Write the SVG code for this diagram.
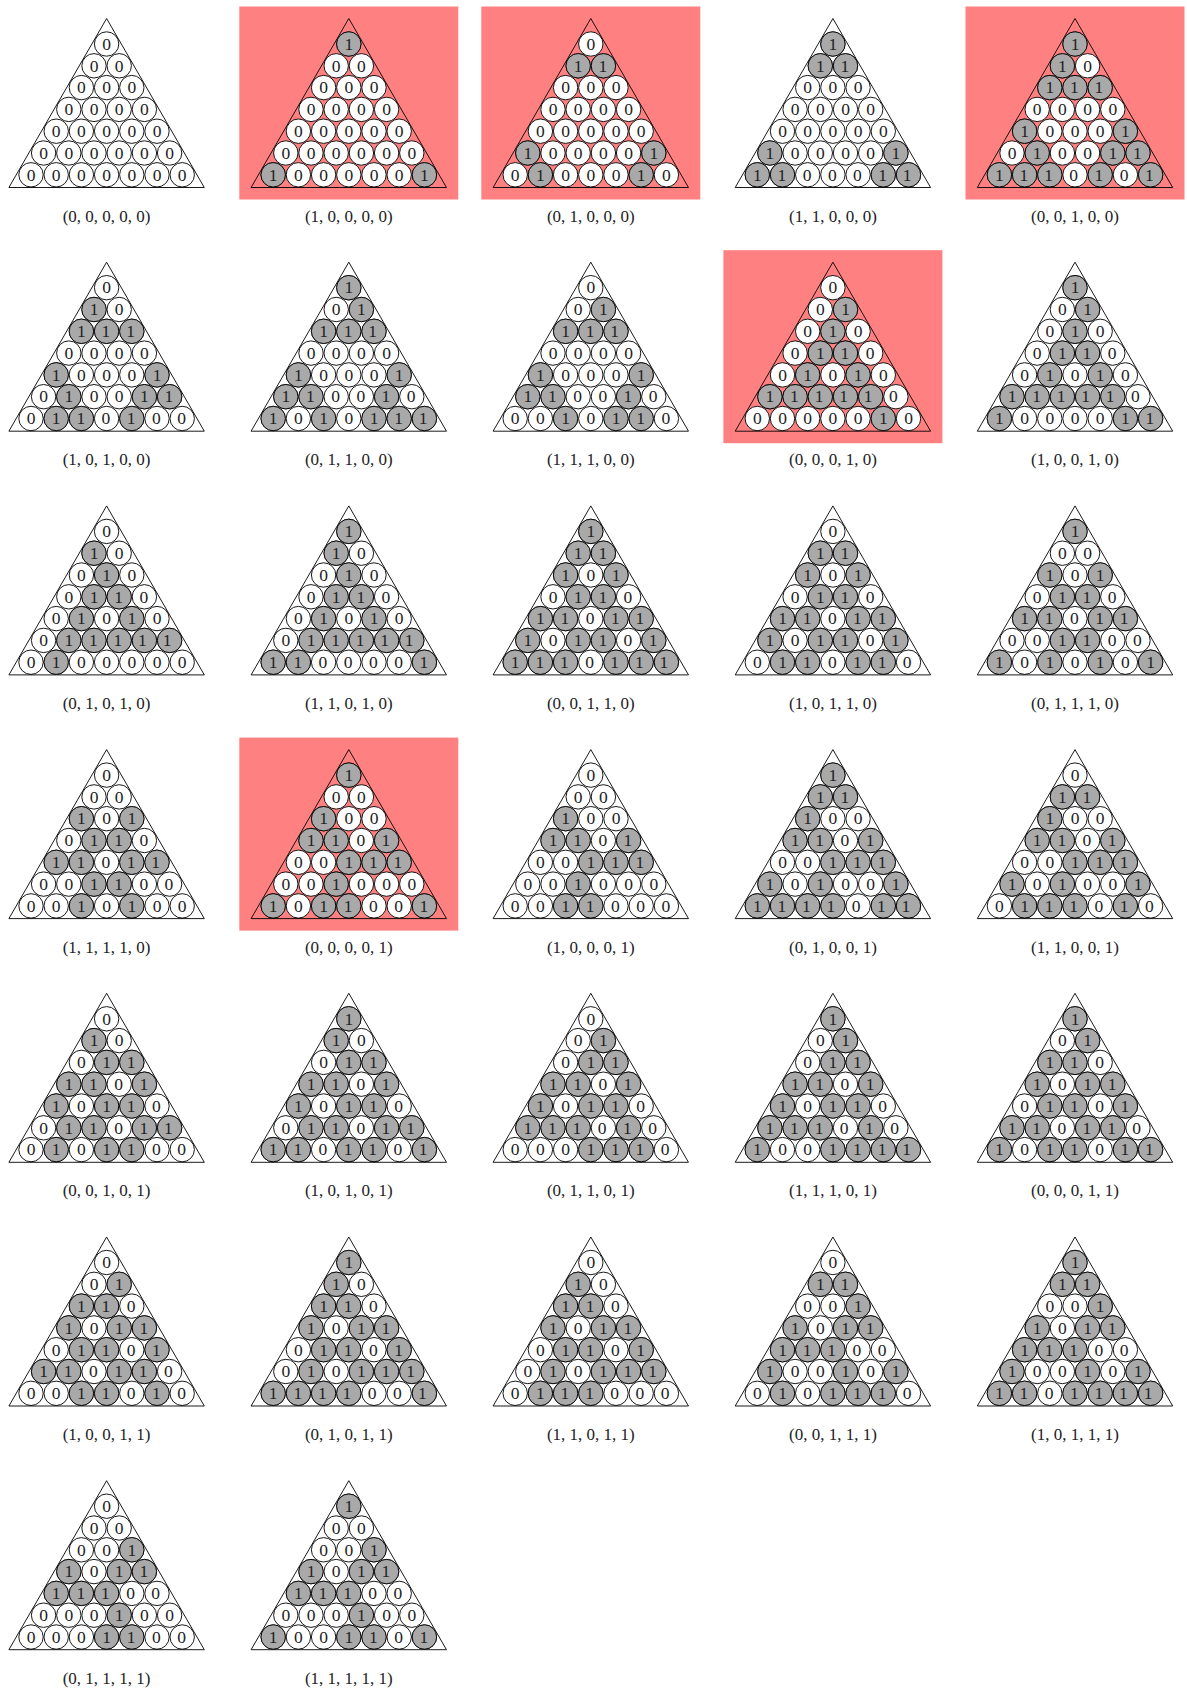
<svg xmlns="http://www.w3.org/2000/svg" width="1187" height="1693" viewBox="0 0 1187 1693">
<style>
text{font-family:"Liberation Serif","Times New Roman",serif;font-size:17px;fill:#222}
.d{font-size:17.5px;letter-spacing:16.45px}
.l{text-anchor:middle}
.w{fill:#fff;stroke:#000;stroke-width:.9}
.g{fill:#a9a9a9;stroke:#000;stroke-width:.9}
.t{fill:none;stroke:#000;stroke-width:.9}
.h{fill:#ff8080}
</style>
<defs>
<g id="b"><circle class="w" cx="0" cy="25.5" r="12.2"/><circle class="w" cx="-12.6" cy="47.3" r="12.2"/><circle class="w" cx="12.6" cy="47.3" r="12.2"/><circle class="w" cx="-25.2" cy="69.1" r="12.2"/><circle class="w" cx="0" cy="69.1" r="12.2"/><circle class="w" cx="25.2" cy="69.1" r="12.2"/><circle class="w" cx="-37.8" cy="90.9" r="12.2"/><circle class="w" cx="-12.6" cy="90.9" r="12.2"/><circle class="w" cx="12.6" cy="90.9" r="12.2"/><circle class="w" cx="37.8" cy="90.9" r="12.2"/><circle class="w" cx="-50.4" cy="112.7" r="12.2"/><circle class="w" cx="-25.2" cy="112.7" r="12.2"/><circle class="w" cx="0" cy="112.7" r="12.2"/><circle class="w" cx="25.2" cy="112.7" r="12.2"/><circle class="w" cx="50.4" cy="112.7" r="12.2"/><circle class="w" cx="-63" cy="134.5" r="12.2"/><circle class="w" cx="-37.8" cy="134.5" r="12.2"/><circle class="w" cx="-12.6" cy="134.5" r="12.2"/><circle class="w" cx="12.6" cy="134.5" r="12.2"/><circle class="w" cx="37.8" cy="134.5" r="12.2"/><circle class="w" cx="63" cy="134.5" r="12.2"/><circle class="w" cx="-75.6" cy="156.3" r="12.2"/><circle class="w" cx="-50.4" cy="156.3" r="12.2"/><circle class="w" cx="-25.2" cy="156.3" r="12.2"/><circle class="w" cx="0" cy="156.3" r="12.2"/><circle class="w" cx="25.2" cy="156.3" r="12.2"/><circle class="w" cx="50.4" cy="156.3" r="12.2"/><circle class="w" cx="75.6" cy="156.3" r="12.2"/><polygon class="t" points="0,0 97.7,169 -97.7,169"/></g>
<circle id="p00" class="g" cx="0" cy="25.5" r="12.2"/>
<circle id="p10" class="g" cx="-12.6" cy="47.3" r="12.2"/><circle id="p11" class="g" cx="12.6" cy="47.3" r="12.2"/>
<circle id="p20" class="g" cx="-25.2" cy="69.1" r="12.2"/><circle id="p21" class="g" cx="0" cy="69.1" r="12.2"/><circle id="p22" class="g" cx="25.2" cy="69.1" r="12.2"/>
<circle id="p30" class="g" cx="-37.8" cy="90.9" r="12.2"/><circle id="p31" class="g" cx="-12.6" cy="90.9" r="12.2"/><circle id="p32" class="g" cx="12.6" cy="90.9" r="12.2"/><circle id="p33" class="g" cx="37.8" cy="90.9" r="12.2"/>
<circle id="p40" class="g" cx="-50.4" cy="112.7" r="12.2"/><circle id="p41" class="g" cx="-25.2" cy="112.7" r="12.2"/><circle id="p42" class="g" cx="0" cy="112.7" r="12.2"/><circle id="p43" class="g" cx="25.2" cy="112.7" r="12.2"/><circle id="p44" class="g" cx="50.4" cy="112.7" r="12.2"/>
<circle id="p50" class="g" cx="-63" cy="134.5" r="12.2"/><circle id="p51" class="g" cx="-37.8" cy="134.5" r="12.2"/><circle id="p52" class="g" cx="-12.6" cy="134.5" r="12.2"/><circle id="p53" class="g" cx="12.6" cy="134.5" r="12.2"/><circle id="p54" class="g" cx="37.8" cy="134.5" r="12.2"/><circle id="p55" class="g" cx="63" cy="134.5" r="12.2"/>
<circle id="p60" class="g" cx="-75.6" cy="156.3" r="12.2"/><circle id="p61" class="g" cx="-50.4" cy="156.3" r="12.2"/><circle id="p62" class="g" cx="-25.2" cy="156.3" r="12.2"/><circle id="p63" class="g" cx="0" cy="156.3" r="12.2"/><circle id="p64" class="g" cx="25.2" cy="156.3" r="12.2"/><circle id="p65" class="g" cx="50.4" cy="156.3" r="12.2"/><circle id="p66" class="g" cx="75.6" cy="156.3" r="12.2"/>
</defs>
<rect width="1187" height="1693" fill="#fff"/>

<g id="n00000" transform="translate(106.6,18.5)"><use href="#b"/>
<text class="d" x="-4.37" y="31.3">0</text><text class="d" x="-16.97" y="53.1">00</text><text class="d" x="-29.57" y="74.9">000</text><text class="d" x="-42.17" y="96.7">0000</text><text class="d" x="-54.77" y="118.5">00000</text><text class="d" x="-67.37" y="140.3">000000</text><text class="d" x="-79.97" y="162.1">0000000</text><text class="l" x="0" y="203">(0, 0, 0, 0, 0)</text></g>

<g id="n10000" transform="translate(348.8,18.5)"><rect class="h" x="-109.5" y="-12" width="219" height="193"/><use href="#b"/><use href="#p00"/><use href="#p60"/><use href="#p66"/>
<text class="d" x="-4.37" y="31.3">1</text><text class="d" x="-16.97" y="53.1">00</text><text class="d" x="-29.57" y="74.9">000</text><text class="d" x="-42.17" y="96.7">0000</text><text class="d" x="-54.77" y="118.5">00000</text><text class="d" x="-67.37" y="140.3">000000</text><text class="d" x="-79.97" y="162.1">1000001</text><text class="l" x="0" y="203">(1, 0, 0, 0, 0)</text></g>

<g id="n01000" transform="translate(590.8,18.5)"><rect class="h" x="-109.5" y="-12" width="219" height="193"/><use href="#b"/><use href="#p10"/><use href="#p11"/><use href="#p50"/><use href="#p55"/><use href="#p61"/><use href="#p65"/>
<text class="d" x="-4.37" y="31.3">0</text><text class="d" x="-16.97" y="53.1">11</text><text class="d" x="-29.57" y="74.9">000</text><text class="d" x="-42.17" y="96.7">0000</text><text class="d" x="-54.77" y="118.5">00000</text><text class="d" x="-67.37" y="140.3">100001</text><text class="d" x="-79.97" y="162.1">0100010</text><text class="l" x="0" y="203">(0, 1, 0, 0, 0)</text></g>

<g id="n11000" transform="translate(832.9,18.5)"><use href="#b"/><use href="#p00"/><use href="#p10"/><use href="#p11"/><use href="#p50"/><use href="#p55"/><use href="#p60"/><use href="#p61"/><use href="#p65"/><use href="#p66"/>
<text class="d" x="-4.37" y="31.3">1</text><text class="d" x="-16.97" y="53.1">11</text><text class="d" x="-29.57" y="74.9">000</text><text class="d" x="-42.17" y="96.7">0000</text><text class="d" x="-54.77" y="118.5">00000</text><text class="d" x="-67.37" y="140.3">100001</text><text class="d" x="-79.97" y="162.1">1100011</text><text class="l" x="0" y="203">(1, 1, 0, 0, 0)</text></g>

<g id="n00100" transform="translate(1075,18.5)"><rect class="h" x="-109.5" y="-12" width="219" height="193"/><use href="#b"/><use href="#p00"/><use href="#p10"/><use href="#p20"/><use href="#p21"/><use href="#p22"/><use href="#p40"/><use href="#p44"/><use href="#p51"/><use href="#p54"/><use href="#p55"/><use href="#p60"/><use href="#p61"/><use href="#p62"/><use href="#p64"/><use href="#p66"/>
<text class="d" x="-4.37" y="31.3">1</text><text class="d" x="-16.97" y="53.1">10</text><text class="d" x="-29.57" y="74.9">111</text><text class="d" x="-42.17" y="96.7">0000</text><text class="d" x="-54.77" y="118.5">10001</text><text class="d" x="-67.37" y="140.3">010011</text><text class="d" x="-79.97" y="162.1">1110101</text><text class="l" x="0" y="203">(0, 0, 1, 0, 0)</text></g>

<g id="n10100" transform="translate(106.6,262.2)"><use href="#b"/><use href="#p10"/><use href="#p20"/><use href="#p21"/><use href="#p22"/><use href="#p40"/><use href="#p44"/><use href="#p51"/><use href="#p54"/><use href="#p55"/><use href="#p61"/><use href="#p62"/><use href="#p64"/>
<text class="d" x="-4.37" y="31.3">0</text><text class="d" x="-16.97" y="53.1">10</text><text class="d" x="-29.57" y="74.9">111</text><text class="d" x="-42.17" y="96.7">0000</text><text class="d" x="-54.77" y="118.5">10001</text><text class="d" x="-67.37" y="140.3">010011</text><text class="d" x="-79.97" y="162.1">0110100</text><text class="l" x="0" y="203">(1, 0, 1, 0, 0)</text></g>

<g id="n01100" transform="translate(348.8,262.2)"><use href="#b"/><use href="#p00"/><use href="#p11"/><use href="#p20"/><use href="#p21"/><use href="#p22"/><use href="#p40"/><use href="#p44"/><use href="#p50"/><use href="#p51"/><use href="#p54"/><use href="#p60"/><use href="#p62"/><use href="#p64"/><use href="#p65"/><use href="#p66"/>
<text class="d" x="-4.37" y="31.3">1</text><text class="d" x="-16.97" y="53.1">01</text><text class="d" x="-29.57" y="74.9">111</text><text class="d" x="-42.17" y="96.7">0000</text><text class="d" x="-54.77" y="118.5">10001</text><text class="d" x="-67.37" y="140.3">110010</text><text class="d" x="-79.97" y="162.1">1010111</text><text class="l" x="0" y="203">(0, 1, 1, 0, 0)</text></g>

<g id="n11100" transform="translate(590.8,262.2)"><use href="#b"/><use href="#p11"/><use href="#p20"/><use href="#p21"/><use href="#p22"/><use href="#p40"/><use href="#p44"/><use href="#p50"/><use href="#p51"/><use href="#p54"/><use href="#p62"/><use href="#p64"/><use href="#p65"/>
<text class="d" x="-4.37" y="31.3">0</text><text class="d" x="-16.97" y="53.1">01</text><text class="d" x="-29.57" y="74.9">111</text><text class="d" x="-42.17" y="96.7">0000</text><text class="d" x="-54.77" y="118.5">10001</text><text class="d" x="-67.37" y="140.3">110010</text><text class="d" x="-79.97" y="162.1">0010110</text><text class="l" x="0" y="203">(1, 1, 1, 0, 0)</text></g>

<g id="n00010" transform="translate(832.9,262.2)"><rect class="h" x="-109.5" y="-12" width="219" height="193"/><use href="#b"/><use href="#p11"/><use href="#p21"/><use href="#p31"/><use href="#p32"/><use href="#p41"/><use href="#p43"/><use href="#p50"/><use href="#p51"/><use href="#p52"/><use href="#p53"/><use href="#p54"/><use href="#p65"/>
<text class="d" x="-4.37" y="31.3">0</text><text class="d" x="-16.97" y="53.1">01</text><text class="d" x="-29.57" y="74.9">010</text><text class="d" x="-42.17" y="96.7">0110</text><text class="d" x="-54.77" y="118.5">01010</text><text class="d" x="-67.37" y="140.3">111110</text><text class="d" x="-79.97" y="162.1">0000010</text><text class="l" x="0" y="203">(0, 0, 0, 1, 0)</text></g>

<g id="n10010" transform="translate(1075,262.2)"><use href="#b"/><use href="#p00"/><use href="#p11"/><use href="#p21"/><use href="#p31"/><use href="#p32"/><use href="#p41"/><use href="#p43"/><use href="#p50"/><use href="#p51"/><use href="#p52"/><use href="#p53"/><use href="#p54"/><use href="#p60"/><use href="#p65"/><use href="#p66"/>
<text class="d" x="-4.37" y="31.3">1</text><text class="d" x="-16.97" y="53.1">01</text><text class="d" x="-29.57" y="74.9">010</text><text class="d" x="-42.17" y="96.7">0110</text><text class="d" x="-54.77" y="118.5">01010</text><text class="d" x="-67.37" y="140.3">111110</text><text class="d" x="-79.97" y="162.1">1000011</text><text class="l" x="0" y="203">(1, 0, 0, 1, 0)</text></g>

<g id="n01010" transform="translate(106.6,505.9)"><use href="#b"/><use href="#p10"/><use href="#p21"/><use href="#p31"/><use href="#p32"/><use href="#p41"/><use href="#p43"/><use href="#p51"/><use href="#p52"/><use href="#p53"/><use href="#p54"/><use href="#p55"/><use href="#p61"/>
<text class="d" x="-4.37" y="31.3">0</text><text class="d" x="-16.97" y="53.1">10</text><text class="d" x="-29.57" y="74.9">010</text><text class="d" x="-42.17" y="96.7">0110</text><text class="d" x="-54.77" y="118.5">01010</text><text class="d" x="-67.37" y="140.3">011111</text><text class="d" x="-79.97" y="162.1">0100000</text><text class="l" x="0" y="203">(0, 1, 0, 1, 0)</text></g>

<g id="n11010" transform="translate(348.8,505.9)"><use href="#b"/><use href="#p00"/><use href="#p10"/><use href="#p21"/><use href="#p31"/><use href="#p32"/><use href="#p41"/><use href="#p43"/><use href="#p51"/><use href="#p52"/><use href="#p53"/><use href="#p54"/><use href="#p55"/><use href="#p60"/><use href="#p61"/><use href="#p66"/>
<text class="d" x="-4.37" y="31.3">1</text><text class="d" x="-16.97" y="53.1">10</text><text class="d" x="-29.57" y="74.9">010</text><text class="d" x="-42.17" y="96.7">0110</text><text class="d" x="-54.77" y="118.5">01010</text><text class="d" x="-67.37" y="140.3">011111</text><text class="d" x="-79.97" y="162.1">1100001</text><text class="l" x="0" y="203">(1, 1, 0, 1, 0)</text></g>

<g id="n00110" transform="translate(590.8,505.9)"><use href="#b"/><use href="#p00"/><use href="#p10"/><use href="#p11"/><use href="#p20"/><use href="#p22"/><use href="#p31"/><use href="#p32"/><use href="#p40"/><use href="#p41"/><use href="#p43"/><use href="#p44"/><use href="#p50"/><use href="#p52"/><use href="#p53"/><use href="#p55"/><use href="#p60"/><use href="#p61"/><use href="#p62"/><use href="#p64"/><use href="#p65"/><use href="#p66"/>
<text class="d" x="-4.37" y="31.3">1</text><text class="d" x="-16.97" y="53.1">11</text><text class="d" x="-29.57" y="74.9">101</text><text class="d" x="-42.17" y="96.7">0110</text><text class="d" x="-54.77" y="118.5">11011</text><text class="d" x="-67.37" y="140.3">101101</text><text class="d" x="-79.97" y="162.1">1110111</text><text class="l" x="0" y="203">(0, 0, 1, 1, 0)</text></g>

<g id="n10110" transform="translate(832.9,505.9)"><use href="#b"/><use href="#p10"/><use href="#p11"/><use href="#p20"/><use href="#p22"/><use href="#p31"/><use href="#p32"/><use href="#p40"/><use href="#p41"/><use href="#p43"/><use href="#p44"/><use href="#p50"/><use href="#p52"/><use href="#p53"/><use href="#p55"/><use href="#p61"/><use href="#p62"/><use href="#p64"/><use href="#p65"/>
<text class="d" x="-4.37" y="31.3">0</text><text class="d" x="-16.97" y="53.1">11</text><text class="d" x="-29.57" y="74.9">101</text><text class="d" x="-42.17" y="96.7">0110</text><text class="d" x="-54.77" y="118.5">11011</text><text class="d" x="-67.37" y="140.3">101101</text><text class="d" x="-79.97" y="162.1">0110110</text><text class="l" x="0" y="203">(1, 0, 1, 1, 0)</text></g>

<g id="n01110" transform="translate(1075,505.9)"><use href="#b"/><use href="#p00"/><use href="#p20"/><use href="#p22"/><use href="#p31"/><use href="#p32"/><use href="#p40"/><use href="#p41"/><use href="#p43"/><use href="#p44"/><use href="#p52"/><use href="#p53"/><use href="#p60"/><use href="#p62"/><use href="#p64"/><use href="#p66"/>
<text class="d" x="-4.37" y="31.3">1</text><text class="d" x="-16.97" y="53.1">00</text><text class="d" x="-29.57" y="74.9">101</text><text class="d" x="-42.17" y="96.7">0110</text><text class="d" x="-54.77" y="118.5">11011</text><text class="d" x="-67.37" y="140.3">001100</text><text class="d" x="-79.97" y="162.1">1010101</text><text class="l" x="0" y="203">(0, 1, 1, 1, 0)</text></g>

<g id="n11110" transform="translate(106.6,749.6)"><use href="#b"/><use href="#p20"/><use href="#p22"/><use href="#p31"/><use href="#p32"/><use href="#p40"/><use href="#p41"/><use href="#p43"/><use href="#p44"/><use href="#p52"/><use href="#p53"/><use href="#p62"/><use href="#p64"/>
<text class="d" x="-4.37" y="31.3">0</text><text class="d" x="-16.97" y="53.1">00</text><text class="d" x="-29.57" y="74.9">101</text><text class="d" x="-42.17" y="96.7">0110</text><text class="d" x="-54.77" y="118.5">11011</text><text class="d" x="-67.37" y="140.3">001100</text><text class="d" x="-79.97" y="162.1">0010100</text><text class="l" x="0" y="203">(1, 1, 1, 1, 0)</text></g>

<g id="n00001" transform="translate(348.8,749.6)"><rect class="h" x="-109.5" y="-12" width="219" height="193"/><use href="#b"/><use href="#p00"/><use href="#p20"/><use href="#p30"/><use href="#p31"/><use href="#p33"/><use href="#p42"/><use href="#p43"/><use href="#p44"/><use href="#p52"/><use href="#p60"/><use href="#p62"/><use href="#p63"/><use href="#p66"/>
<text class="d" x="-4.37" y="31.3">1</text><text class="d" x="-16.97" y="53.1">00</text><text class="d" x="-29.57" y="74.9">100</text><text class="d" x="-42.17" y="96.7">1101</text><text class="d" x="-54.77" y="118.5">00111</text><text class="d" x="-67.37" y="140.3">001000</text><text class="d" x="-79.97" y="162.1">1011001</text><text class="l" x="0" y="203">(0, 0, 0, 0, 1)</text></g>

<g id="n10001" transform="translate(590.8,749.6)"><use href="#b"/><use href="#p20"/><use href="#p30"/><use href="#p31"/><use href="#p33"/><use href="#p42"/><use href="#p43"/><use href="#p44"/><use href="#p52"/><use href="#p62"/><use href="#p63"/>
<text class="d" x="-4.37" y="31.3">0</text><text class="d" x="-16.97" y="53.1">00</text><text class="d" x="-29.57" y="74.9">100</text><text class="d" x="-42.17" y="96.7">1101</text><text class="d" x="-54.77" y="118.5">00111</text><text class="d" x="-67.37" y="140.3">001000</text><text class="d" x="-79.97" y="162.1">0011000</text><text class="l" x="0" y="203">(1, 0, 0, 0, 1)</text></g>

<g id="n01001" transform="translate(832.9,749.6)"><use href="#b"/><use href="#p00"/><use href="#p10"/><use href="#p11"/><use href="#p20"/><use href="#p30"/><use href="#p31"/><use href="#p33"/><use href="#p42"/><use href="#p43"/><use href="#p44"/><use href="#p50"/><use href="#p52"/><use href="#p55"/><use href="#p60"/><use href="#p61"/><use href="#p62"/><use href="#p63"/><use href="#p65"/><use href="#p66"/>
<text class="d" x="-4.37" y="31.3">1</text><text class="d" x="-16.97" y="53.1">11</text><text class="d" x="-29.57" y="74.9">100</text><text class="d" x="-42.17" y="96.7">1101</text><text class="d" x="-54.77" y="118.5">00111</text><text class="d" x="-67.37" y="140.3">101001</text><text class="d" x="-79.97" y="162.1">1111011</text><text class="l" x="0" y="203">(0, 1, 0, 0, 1)</text></g>

<g id="n11001" transform="translate(1075,749.6)"><use href="#b"/><use href="#p10"/><use href="#p11"/><use href="#p20"/><use href="#p30"/><use href="#p31"/><use href="#p33"/><use href="#p42"/><use href="#p43"/><use href="#p44"/><use href="#p50"/><use href="#p52"/><use href="#p55"/><use href="#p61"/><use href="#p62"/><use href="#p63"/><use href="#p65"/>
<text class="d" x="-4.37" y="31.3">0</text><text class="d" x="-16.97" y="53.1">11</text><text class="d" x="-29.57" y="74.9">100</text><text class="d" x="-42.17" y="96.7">1101</text><text class="d" x="-54.77" y="118.5">00111</text><text class="d" x="-67.37" y="140.3">101001</text><text class="d" x="-79.97" y="162.1">0111010</text><text class="l" x="0" y="203">(1, 1, 0, 0, 1)</text></g>

<g id="n00101" transform="translate(106.6,993.3)"><use href="#b"/><use href="#p10"/><use href="#p21"/><use href="#p22"/><use href="#p30"/><use href="#p31"/><use href="#p33"/><use href="#p40"/><use href="#p42"/><use href="#p43"/><use href="#p51"/><use href="#p52"/><use href="#p54"/><use href="#p55"/><use href="#p61"/><use href="#p63"/><use href="#p64"/>
<text class="d" x="-4.37" y="31.3">0</text><text class="d" x="-16.97" y="53.1">10</text><text class="d" x="-29.57" y="74.9">011</text><text class="d" x="-42.17" y="96.7">1101</text><text class="d" x="-54.77" y="118.5">10110</text><text class="d" x="-67.37" y="140.3">011011</text><text class="d" x="-79.97" y="162.1">0101100</text><text class="l" x="0" y="203">(0, 0, 1, 0, 1)</text></g>

<g id="n10101" transform="translate(348.8,993.3)"><use href="#b"/><use href="#p00"/><use href="#p10"/><use href="#p21"/><use href="#p22"/><use href="#p30"/><use href="#p31"/><use href="#p33"/><use href="#p40"/><use href="#p42"/><use href="#p43"/><use href="#p51"/><use href="#p52"/><use href="#p54"/><use href="#p55"/><use href="#p60"/><use href="#p61"/><use href="#p63"/><use href="#p64"/><use href="#p66"/>
<text class="d" x="-4.37" y="31.3">1</text><text class="d" x="-16.97" y="53.1">10</text><text class="d" x="-29.57" y="74.9">011</text><text class="d" x="-42.17" y="96.7">1101</text><text class="d" x="-54.77" y="118.5">10110</text><text class="d" x="-67.37" y="140.3">011011</text><text class="d" x="-79.97" y="162.1">1101101</text><text class="l" x="0" y="203">(1, 0, 1, 0, 1)</text></g>

<g id="n01101" transform="translate(590.8,993.3)"><use href="#b"/><use href="#p11"/><use href="#p21"/><use href="#p22"/><use href="#p30"/><use href="#p31"/><use href="#p33"/><use href="#p40"/><use href="#p42"/><use href="#p43"/><use href="#p50"/><use href="#p51"/><use href="#p52"/><use href="#p54"/><use href="#p63"/><use href="#p64"/><use href="#p65"/>
<text class="d" x="-4.37" y="31.3">0</text><text class="d" x="-16.97" y="53.1">01</text><text class="d" x="-29.57" y="74.9">011</text><text class="d" x="-42.17" y="96.7">1101</text><text class="d" x="-54.77" y="118.5">10110</text><text class="d" x="-67.37" y="140.3">111010</text><text class="d" x="-79.97" y="162.1">0001110</text><text class="l" x="0" y="203">(0, 1, 1, 0, 1)</text></g>

<g id="n11101" transform="translate(832.9,993.3)"><use href="#b"/><use href="#p00"/><use href="#p11"/><use href="#p21"/><use href="#p22"/><use href="#p30"/><use href="#p31"/><use href="#p33"/><use href="#p40"/><use href="#p42"/><use href="#p43"/><use href="#p50"/><use href="#p51"/><use href="#p52"/><use href="#p54"/><use href="#p60"/><use href="#p63"/><use href="#p64"/><use href="#p65"/><use href="#p66"/>
<text class="d" x="-4.37" y="31.3">1</text><text class="d" x="-16.97" y="53.1">01</text><text class="d" x="-29.57" y="74.9">011</text><text class="d" x="-42.17" y="96.7">1101</text><text class="d" x="-54.77" y="118.5">10110</text><text class="d" x="-67.37" y="140.3">111010</text><text class="d" x="-79.97" y="162.1">1001111</text><text class="l" x="0" y="203">(1, 1, 1, 0, 1)</text></g>

<g id="n00011" transform="translate(1075,993.3)"><use href="#b"/><use href="#p00"/><use href="#p11"/><use href="#p20"/><use href="#p21"/><use href="#p30"/><use href="#p32"/><use href="#p33"/><use href="#p41"/><use href="#p42"/><use href="#p44"/><use href="#p50"/><use href="#p51"/><use href="#p53"/><use href="#p54"/><use href="#p60"/><use href="#p62"/><use href="#p63"/><use href="#p65"/><use href="#p66"/>
<text class="d" x="-4.37" y="31.3">1</text><text class="d" x="-16.97" y="53.1">01</text><text class="d" x="-29.57" y="74.9">110</text><text class="d" x="-42.17" y="96.7">1011</text><text class="d" x="-54.77" y="118.5">01101</text><text class="d" x="-67.37" y="140.3">110110</text><text class="d" x="-79.97" y="162.1">1011011</text><text class="l" x="0" y="203">(0, 0, 0, 1, 1)</text></g>

<g id="n10011" transform="translate(106.6,1237)"><use href="#b"/><use href="#p11"/><use href="#p20"/><use href="#p21"/><use href="#p30"/><use href="#p32"/><use href="#p33"/><use href="#p41"/><use href="#p42"/><use href="#p44"/><use href="#p50"/><use href="#p51"/><use href="#p53"/><use href="#p54"/><use href="#p62"/><use href="#p63"/><use href="#p65"/>
<text class="d" x="-4.37" y="31.3">0</text><text class="d" x="-16.97" y="53.1">01</text><text class="d" x="-29.57" y="74.9">110</text><text class="d" x="-42.17" y="96.7">1011</text><text class="d" x="-54.77" y="118.5">01101</text><text class="d" x="-67.37" y="140.3">110110</text><text class="d" x="-79.97" y="162.1">0011010</text><text class="l" x="0" y="203">(1, 0, 0, 1, 1)</text></g>

<g id="n01011" transform="translate(348.8,1237)"><use href="#b"/><use href="#p00"/><use href="#p10"/><use href="#p20"/><use href="#p21"/><use href="#p30"/><use href="#p32"/><use href="#p33"/><use href="#p41"/><use href="#p42"/><use href="#p44"/><use href="#p51"/><use href="#p53"/><use href="#p54"/><use href="#p55"/><use href="#p60"/><use href="#p61"/><use href="#p62"/><use href="#p63"/><use href="#p66"/>
<text class="d" x="-4.37" y="31.3">1</text><text class="d" x="-16.97" y="53.1">10</text><text class="d" x="-29.57" y="74.9">110</text><text class="d" x="-42.17" y="96.7">1011</text><text class="d" x="-54.77" y="118.5">01101</text><text class="d" x="-67.37" y="140.3">010111</text><text class="d" x="-79.97" y="162.1">1111001</text><text class="l" x="0" y="203">(0, 1, 0, 1, 1)</text></g>

<g id="n11011" transform="translate(590.8,1237)"><use href="#b"/><use href="#p10"/><use href="#p20"/><use href="#p21"/><use href="#p30"/><use href="#p32"/><use href="#p33"/><use href="#p41"/><use href="#p42"/><use href="#p44"/><use href="#p51"/><use href="#p53"/><use href="#p54"/><use href="#p55"/><use href="#p61"/><use href="#p62"/><use href="#p63"/>
<text class="d" x="-4.37" y="31.3">0</text><text class="d" x="-16.97" y="53.1">10</text><text class="d" x="-29.57" y="74.9">110</text><text class="d" x="-42.17" y="96.7">1011</text><text class="d" x="-54.77" y="118.5">01101</text><text class="d" x="-67.37" y="140.3">010111</text><text class="d" x="-79.97" y="162.1">0111000</text><text class="l" x="0" y="203">(1, 1, 0, 1, 1)</text></g>

<g id="n00111" transform="translate(832.9,1237)"><use href="#b"/><use href="#p10"/><use href="#p11"/><use href="#p22"/><use href="#p30"/><use href="#p32"/><use href="#p33"/><use href="#p40"/><use href="#p41"/><use href="#p42"/><use href="#p50"/><use href="#p53"/><use href="#p55"/><use href="#p61"/><use href="#p63"/><use href="#p64"/><use href="#p65"/>
<text class="d" x="-4.37" y="31.3">0</text><text class="d" x="-16.97" y="53.1">11</text><text class="d" x="-29.57" y="74.9">001</text><text class="d" x="-42.17" y="96.7">1011</text><text class="d" x="-54.77" y="118.5">11100</text><text class="d" x="-67.37" y="140.3">100101</text><text class="d" x="-79.97" y="162.1">0101110</text><text class="l" x="0" y="203">(0, 0, 1, 1, 1)</text></g>

<g id="n10111" transform="translate(1075,1237)"><use href="#b"/><use href="#p00"/><use href="#p10"/><use href="#p11"/><use href="#p22"/><use href="#p30"/><use href="#p32"/><use href="#p33"/><use href="#p40"/><use href="#p41"/><use href="#p42"/><use href="#p50"/><use href="#p53"/><use href="#p55"/><use href="#p60"/><use href="#p61"/><use href="#p63"/><use href="#p64"/><use href="#p65"/><use href="#p66"/>
<text class="d" x="-4.37" y="31.3">1</text><text class="d" x="-16.97" y="53.1">11</text><text class="d" x="-29.57" y="74.9">001</text><text class="d" x="-42.17" y="96.7">1011</text><text class="d" x="-54.77" y="118.5">11100</text><text class="d" x="-67.37" y="140.3">100101</text><text class="d" x="-79.97" y="162.1">1101111</text><text class="l" x="0" y="203">(1, 0, 1, 1, 1)</text></g>

<g id="n01111" transform="translate(106.6,1480.7)"><use href="#b"/><use href="#p22"/><use href="#p30"/><use href="#p32"/><use href="#p33"/><use href="#p40"/><use href="#p41"/><use href="#p42"/><use href="#p53"/><use href="#p63"/><use href="#p64"/>
<text class="d" x="-4.37" y="31.3">0</text><text class="d" x="-16.97" y="53.1">00</text><text class="d" x="-29.57" y="74.9">001</text><text class="d" x="-42.17" y="96.7">1011</text><text class="d" x="-54.77" y="118.5">11100</text><text class="d" x="-67.37" y="140.3">000100</text><text class="d" x="-79.97" y="162.1">0001100</text><text class="l" x="0" y="203">(0, 1, 1, 1, 1)</text></g>

<g id="n11111" transform="translate(348.8,1480.7)"><use href="#b"/><use href="#p00"/><use href="#p22"/><use href="#p30"/><use href="#p32"/><use href="#p33"/><use href="#p40"/><use href="#p41"/><use href="#p42"/><use href="#p53"/><use href="#p60"/><use href="#p63"/><use href="#p64"/><use href="#p66"/>
<text class="d" x="-4.37" y="31.3">1</text><text class="d" x="-16.97" y="53.1">00</text><text class="d" x="-29.57" y="74.9">001</text><text class="d" x="-42.17" y="96.7">1011</text><text class="d" x="-54.77" y="118.5">11100</text><text class="d" x="-67.37" y="140.3">000100</text><text class="d" x="-79.97" y="162.1">1001101</text><text class="l" x="0" y="203">(1, 1, 1, 1, 1)</text></g>
</svg>
